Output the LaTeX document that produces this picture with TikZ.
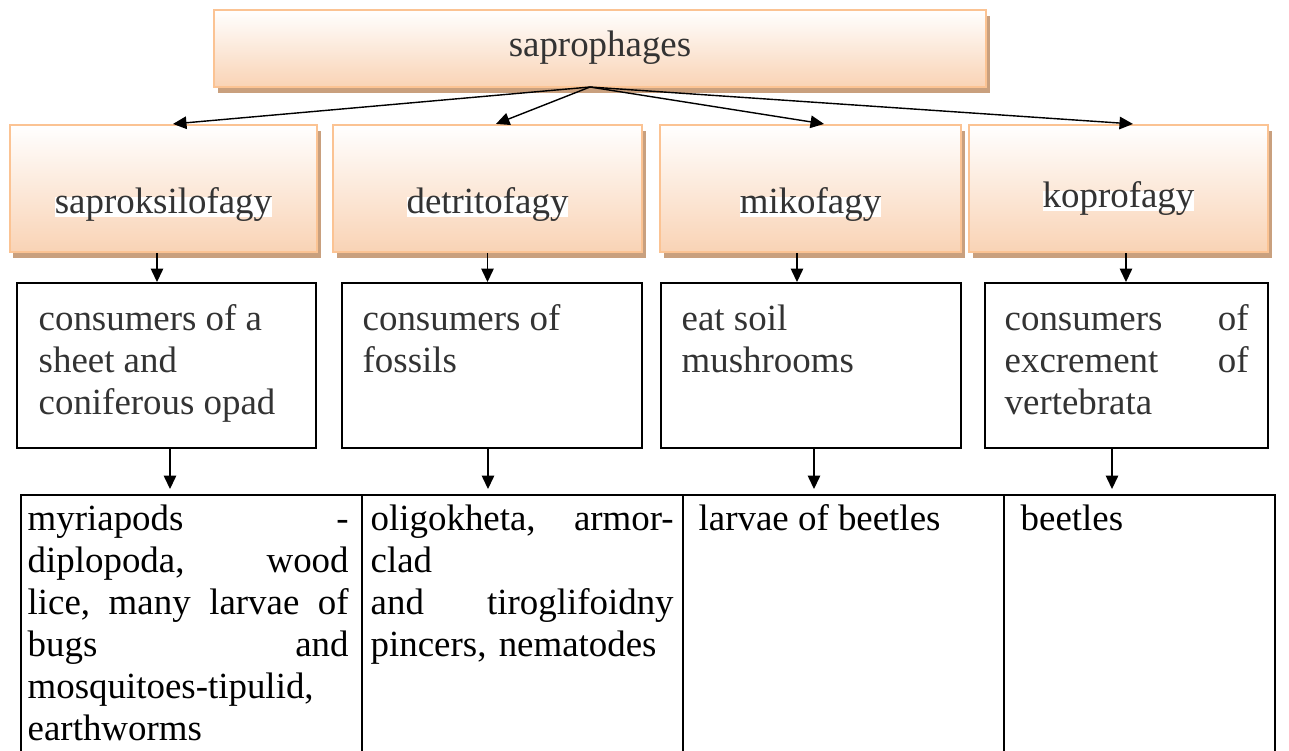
\documentclass[tikz,border=0pt]{standalone}
\usepackage{fontspec}
\setmainfont{Liberation Serif}
\usetikzlibrary{arrows.meta,fit,shadows}
\definecolor{peachline}{HTML}{FBC393}
\definecolor{peachfill}{HTML}{F9D3B5}
\definecolor{shadowtan}{HTML}{C9A07E}
\definecolor{inkgray}{HTML}{333333}
\tikzset{
  groupbox/.style={draw=peachline,line width=1.2pt,top color=white,bottom color=peachfill,inner sep=0pt,
    drop shadow={shadow xshift=0.07cm,shadow yshift=-0.11cm,fill=shadowtan,opacity=1}},
  grouplabel/.style={fill=white,text=inkgray,inner sep=0pt,text height=0.89em,text depth=0.22em,anchor=base},
  foodbox/.style={draw=black,line width=1.1pt,inner sep=0pt},
  foodtext/.style={inner sep=0pt,anchor=north west,align=left,text=inkgray},
  cellbox/.style={draw=black,line width=1.1pt,inner sep=0pt},
  celltext/.style={inner sep=0pt,anchor=north west,align=left},
}
\begin{document}
\begin{tikzpicture}[x=0.02cm,y=-0.02cm,>={Triangle[length=0.27cm,width=0.25cm]},line width=0.8pt,
  font=\fontsize{21}{23.9}\selectfont]%1 unit = 1px, y downwards
\useasboundingbox (0,0) rectangle (1289,751);
%========================
\node[groupbox,fit={(214,10) (986,87)}] (sapro) {};
\node[anchor=base,text=inkgray,inner sep=0pt] (saprotxt) at (600,56) {saprophages};
\coordinate (hub) at (590,87);
%========================
\node[groupbox,fit={(10,125) (317,252)}] (saprox) {};
\node[groupbox,fit={(333,125) (642,252)}] (detrit) {};
\node[groupbox,fit={(660,125) (961,252)}] (miko) {};
\node[groupbox,fit={(969,125) (1268,252)}] (kopro) {};
\node[grouplabel] (saproxtxt) at (163.5,213) {saproksilofagy};
\node[grouplabel] (detrittxt) at (487.5,213) {detritofagy};
\node[grouplabel] (mikotxt) at (810.5,213) {mikofagy};
\node[grouplabel] (koprotxt) at (1118.5,207) {koprofagy};
\foreach \n/\s in {saprox/0.19,detrit/0.17,miko/0.27,kopro/0.29}
  \draw[->] (hub) -- ([xshift=\s cm]\n.north);
%========================
\node[foodbox,fit={(17,283) (316,448)}] (leaf) {};
\node[foodbox,fit={(342,283) (642,448)}] (fossil) {};
\node[foodbox,fit={(661,283) (961,448)}] (mush) {};
\node[foodbox,fit={(985,283) (1268,448)}] (dung) {};
\node[foodtext] (leaftxt) at (38,300) {\strut consumers of a\\ sheet and\\ coniferous opad};
\node[foodtext] (fossiltxt) at (362,300) {\strut consumers of\\ fossils};
\node[foodtext] (mushtxt) at (681,300) {\strut eat soil\\ mushrooms};
\node[foodtext,text width=4.88cm] (dungtxt) at (1004,300) {\strut consumers\hfill of\\ excrement\hfill of\\ vertebrata};
\foreach \n/\m/\s in {saprox/leaf/-0.13,detrit/fossil/0,miko/mush/-0.27,kopro/dung/0.15}
  \draw[->] ([xshift=\s cm]\n.south) -- ([xshift=\s cm]\n.south |- \m.north);
%========================
\node[cellbox,fit={(21,495) (362,780)}] (c1) {};
\node[cellbox,fit={(362,495) (683,780)}] (c2) {};
\node[cellbox,fit={(683,495) (1004,780)}] (c3) {};
\node[cellbox,fit={(1004,495) (1275,780)}] (c4) {};
\node[celltext,text width=6.42cm] (c1txt) at (27,500) {\strut myriapods\hfill -\\ diplopoda,\hfill wood\\ lice,\hfill many\hfill larvae\hfill of\\ bugs\hfill and\\ mosquitoes-tipulid,\\ earthworms};
\node[celltext,text width=6.06cm] (c2txt) at (370,500) {\strut oligokheta,\hfill armor-\\ clad\\ and\hfill tiroglifoidny\\ pincers, nematodes};
\node[celltext] (c3txt) at (698,500) {\strut larvae of beetles};
\node[celltext] (c4txt) at (1020,500) {\strut beetles};
\foreach \n/\m/\s in {leaf/c1/0.07,fossil/c2/-0.08,mush/c3/0.06,dung/c4/-0.29}
  \draw[->,shorten >=0.1cm] ([xshift=\s cm]\n.south) -- ([xshift=\s cm]\n.south |- \m.north);
%========================
\end{tikzpicture}
\end{document}
